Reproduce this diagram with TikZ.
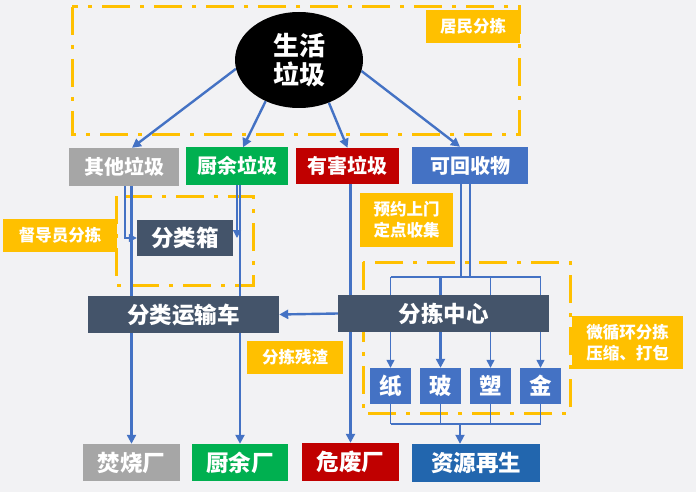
\documentclass[tikz,border=0pt]{standalone}
\usepackage{fontspec}
\setmainfont{Noto Sans CJK SC}
\usetikzlibrary{arrows.meta,shapes.geometric,calc}
\definecolor{hinter}{HTML}{F2F2F4}
\definecolor{gelb}{HTML}{FFC000}
\definecolor{blau}{HTML}{4472C4}
\definecolor{dblau}{HTML}{2266AE}
\definecolor{gruen}{HTML}{00B050}
\definecolor{rot}{HTML}{C00000}
\definecolor{grau}{HTML}{A6A6A6}
\definecolor{schiefer}{HTML}{44546A}
\pgfdeclarelayer{hinten}
\pgfdeclarelayer{linien}
\pgfsetlayers{hinten,linien,main}
\tikzset{
  kasten/.style={inner sep=0pt,text=white,align=center,font=\fontsize{20}{24}\selectfont\bfseries},
  gross/.style={kasten,fill=schiefer,font=\fontsize{22.5}{26}\selectfont\bfseries},
  etikett/.style={kasten,fill=gelb,font=\fontsize{16.5}{21}\selectfont\bfseries},
  rahmen/.style={gelb,line width=3pt,dash pattern=on 28pt off 10pt on 4pt off 10pt},
  pfeil/.style={-{Triangle[length=9pt,width=9pt]},blau,line width=2.4pt},
  pfeild/.style={-{Triangle[length=8pt,width=8pt]},blau,line width=1.3pt},
  duenn/.style={blau,line width=1.3pt},
}

\begin{document}
\begin{tikzpicture}[x=1pt,y=-1pt]
  \useasboundingbox (0,0) rectangle (696,492);
  \begin{pgfonlayer}{hinten}
    \fill[hinter] (0,0) rectangle (696,492);
    \draw[rahmen] (72,7) rectangle (519,135);
    \draw[rahmen] (116,196) rectangle (253,285);
    \draw[rahmen] (363,262) rectangle (570,413);
  \end{pgfonlayer}

  \node[ellipse,fill=black,minimum width=128pt,minimum height=96pt,inner sep=0pt,
        text=white,align=center,font=\fontsize{26}{29}\selectfont\bfseries] (muell) at (299,60) {生活\\垃圾};

  % Sorten
  \node[kasten,fill=grau,minimum width=110pt,minimum height=38pt] (qita) at (124,167) {其他垃圾};
  \node[kasten,fill=gruen,minimum width=102pt,minimum height=37pt] (chuyu) at (237,166) {厨余垃圾};
  \node[kasten,fill=rot,minimum width=103pt,minimum height=36pt] (youhai) at (347.5,166) {有害垃圾};
  \node[kasten,fill=blau,minimum width=116pt,minimum height=37pt] (kehui) at (470,165.5) {可回收物};

  \node[gross,minimum width=96pt,minimum height=36pt] (xiang) at (185,238) {分类箱};
  \node[gross,minimum width=191pt,minimum height=37pt] (che) at (183.5,314.5) {分类运输车};
  \node[gross,minimum width=211pt,minimum height=37pt] (zhongxin) at (443.5,313.5) {分拣中心};

  \foreach \n/\t [count=\i from 0] in {zhi/纸,bo/玻,su/塑,jin/金}
    \node[gross,fill=blau,minimum width=41pt,minimum height=36pt] (\n) at (390.5+50*\i,386) {\t};

  % Anlagen
  \node[gross,fill=grau,minimum width=97pt,minimum height=37pt] (fenshao) at (131.5,462.5) {焚烧厂};
  \node[gross,fill=gruen,minimum width=96pt,minimum height=37pt] (chuyuc) at (240,462.5) {厨余厂};
  \node[gross,fill=rot,minimum width=97pt,minimum height=38pt] (weifei) at (350.5,462) {危废厂};
  \node[gross,fill=dblau,minimum width=128pt,minimum height=38pt] (ziyuan) at (476,463) {资源再生};

  % Etiketten
  \node[etikett,minimum width=94pt,minimum height=33pt] (jumin) at (473,26.5) {居民分拣};
  \node[etikett,minimum width=114pt,minimum height=33pt] (dudao) at (60,235.5) {督导员分拣};
  \node[etikett,minimum width=93pt,minimum height=54pt] (yuyue) at (406.5,220) {预约上门\\定点收集};
  \node[etikett,minimum width=96pt,minimum height=33pt] (canzha) at (295,357.5) {分拣残渣};
  \node[etikett,minimum width=111pt,minimum height=53pt] (weixun) at (627.5,342.5) {微循环分拣\\压缩、打包};

  \begin{pgfonlayer}{linien}
    \draw[pfeil] (muell.188) -- ($(qita.north)+(8,0)$);
    \draw[pfeil] (muell.231) -- ($(chuyu.north)+(6,0)$);
    \draw[pfeil] (muell.305) -- (youhai.north);
    \draw[pfeil] (muell.350) -- ($(kehui.north)+(-10,0)$);

    \draw[pfeild] ($(qita.south)+(1,0)$) |- (xiang.west);
    \draw[pfeild] (chuyu.south) -- (chuyu.south |- xiang.east);
    \draw[pfeil] (fenshao.north |- qita.south) -- (fenshao.north);
    \draw[pfeil] (chuyuc.north |- chuyu.south) -- (chuyuc.north);
    \draw[pfeil] (weifei.north |- youhai.south) -- (weifei.north);
    \draw[pfeil] (zhongxin.west) -- (che.east);

    % Verteilung
    \coordinate (verteil) at (0,277);
    \draw[pfeil] ($(kehui.south)+(-9,0)$) |- (bo |- verteil) -- (bo.north);
    \draw[duenn] (kehui.south) -- (kehui.south |- verteil);
    \draw[duenn] (zhi |- verteil) -- (jin |- verteil);
    \foreach \n in {zhi,su,jin}
      \draw[pfeild] (\n |- verteil) -- (\n.north);

    \coordinate (sammel) at (460,424);
    \foreach \n in {zhi,bo,su,jin}
      \draw[duenn] (\n.south) -- (\n.south |- sammel);
    \draw[duenn] (zhi.south |- sammel) -- (jin.south |- sammel);
    \draw[pfeil,line width=1.8pt] (sammel) -- (sammel |- ziyuan.north);
  \end{pgfonlayer}
\end{tikzpicture}
\end{document}
